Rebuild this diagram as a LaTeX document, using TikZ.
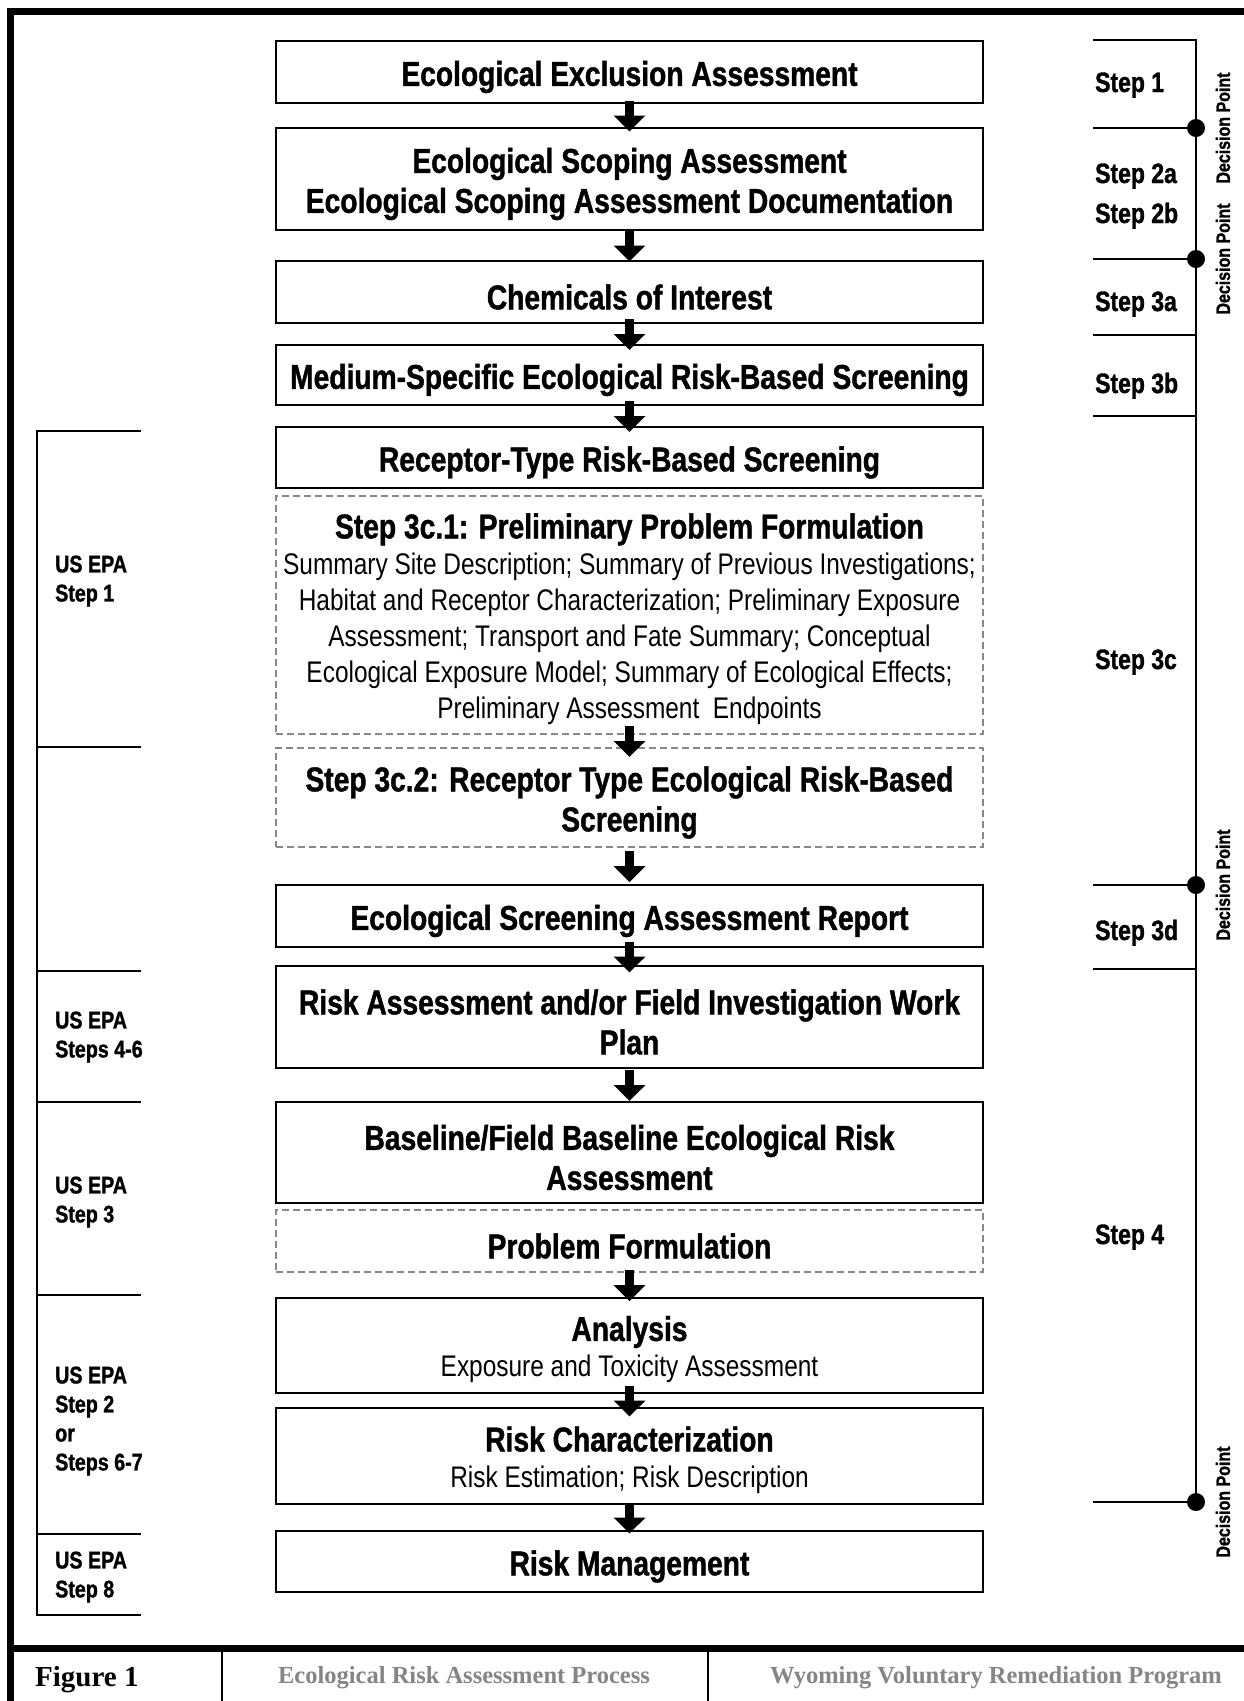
\documentclass[tikz,border=0pt]{standalone}
\usepackage{fontspec}
\setmainfont{Liberation Sans}
\newfontfamily\narrowfont{Liberation Sans}[FakeStretch=0.82, BoldFeatures={FakeBold=1.2}]
\newfontfamily\timesfont{Liberation Serif}
\usetikzlibrary{arrows.meta,calc}
\definecolor{dashgray}{HTML}{888888}
\definecolor{footgray}{HTML}{858585}
\newcommand\titlef{\narrowfont\bfseries\fontsize{34.4pt}{40pt}\selectfont}
\newcommand\bodyf{\narrowfont\fontsize{29.8pt}{36pt}\selectfont}
\newcommand\stepf{\narrowfont\bfseries\fontsize{28pt}{34pt}\selectfont}
\newcommand\epaf{\narrowfont\bfseries\fontsize{24pt}{29pt}\selectfont}
\newcommand\decf{\narrowfont\bfseries\fontsize{19.5pt}{23pt}\selectfont}
\newcommand\figf{\timesfont\bfseries\fontsize{29pt}{34pt}\selectfont}
\newcommand\footf{\timesfont\bfseries\fontsize{24.5pt}{29pt}\selectfont}
\begin{document}
\begin{tikzpicture}[x=1pt,y=-1pt,
  box/.style={draw, line width=1.8pt, minimum width=707pt, inner sep=0pt},
  dbox/.style={box, draw=dashgray, line width=2.5pt, dash pattern=on 7pt off 4pt},
  boxtext/.style={inner sep=0pt, align=center, font=\titlef},
  flowarrow/.style={line width=9pt, -{Triangle[width=31pt,length=16pt]}},
  thinline/.style={line width=1.5pt},
  decdot/.style={circle, fill=black, inner sep=0pt, minimum size=18pt},
  steplabel/.style={anchor=base west, font=\stepf, inner sep=0pt},
  epalabel/.style={anchor=west, align=left, font=\epaf, inner sep=0pt},
  declabel/.style={rotate=90, font=\decf, inner sep=0pt}]
\path[fill=white] (0,0) rectangle (1244,1701);
\useasboundingbox (0,0) rectangle (1244,1701);

% frame
\draw[line width=7pt, line join=miter] (1244,11.5) -- (10.5,11.5) -- (10.5,1701);
\draw[line width=7pt] (10.5,1648) -- (1244,1648);
\draw[line width=1.2pt] (222,1651.5) -- (222,1701);
\draw[line width=1.2pt] (708,1651.5) -- (708,1701);

% footer
\node[anchor=base west, font=\figf, inner sep=0pt] (fig) at (35,1686) {Figure 1};
\node[anchor=base, font=\footf, text=footgray, inner sep=0pt] (ftitle) at (464,1683) {Ecological Risk Assessment Process};
\node[anchor=base, font=\footf, text=footgray, inner sep=0pt] (fprog) at (996,1683) {Wyoming Voluntary Remediation Program};

% main boxes
\node[box, minimum height=62pt] (b1) at (629.5,72) {};
\node[box, minimum height=102pt] (b2) at (629.5,179) {};
\node[box, minimum height=62pt] (b3) at (629.5,292) {};
\node[box, minimum height=60pt] (b4) at (629.5,375) {};
\node[box, minimum height=61pt] (b5) at (629.5,457.5) {};
\node[dbox, minimum height=238pt] (b6) at (629.5,615) {};
\node[dbox, minimum height=99pt] (b7) at (629.5,797.5) {};
\node[box, minimum height=62pt] (b8) at (629.5,916) {};
\node[box, minimum height=102pt] (b9) at (629.5,1017) {};
\node[box, minimum height=101pt] (b10) at (629.5,1152.5) {};
\node[dbox, minimum height=62pt] (b11) at (629.5,1241) {};
\node[box, minimum height=95pt] (b12) at (629.5,1345.5) {};
\node[box, minimum height=96pt] (b13) at (629.5,1456) {};
\node[box, minimum height=61pt] (b14) at (629.5,1561.5) {};

% box texts
\node[boxtext] (t1) at ($(b1.center)+(0,5)$) {Ecological Exclusion Assessment};
\node[boxtext] (t2) at ($(b2.center)+(0,5)$) {Ecological Scoping Assessment\\Ecological Scoping Assessment Documentation};
\node[boxtext] (t3) at ($(b3.center)+(0,5)$) {Chemicals of Interest};
\node[boxtext] (t4) at ($(b4.center)+(0,5)$) {Medium-Specific Ecological Risk-Based Screening};
\node[boxtext] (t5) at ($(b5.center)+(0,5)$) {Receptor-Type Risk-Based Screening};
\node[boxtext, font=\bodyf] (t6) at ($(b6.center)+(0,4)$) {{\titlef Step 3c.1: Preliminary Problem Formulation}\\
Summary Site Description; Summary of Previous Investigations;\\
Habitat and Receptor Characterization; Preliminary Exposure\\
Assessment; Transport and Fate Summary; Conceptual\\
Ecological Exposure Model; Summary of Ecological Effects;\\
Preliminary Assessment\ \ Endpoints};
\node[boxtext] (t7) at ($(b7.center)+(0,5)$) {Step 3c.2: Receptor Type Ecological Risk-Based\\Screening};
\node[boxtext] (t8) at ($(b8.center)+(0,5)$) {Ecological Screening Assessment Report};
\node[boxtext] (t9) at ($(b9.center)+(0,5)$) {Risk Assessment and/or Field Investigation Work\\Plan};
\node[boxtext] (t10) at ($(b10.center)+(0,5)$) {Baseline/Field Baseline Ecological Risk\\Assessment};
\node[boxtext] (t11) at ($(b11.center)+(0,5)$) {Problem Formulation};
\node[boxtext, font=\bodyf] (t12) at ($(b12.center)+(0,4)$) {{\titlef Analysis}\\Exposure and Toxicity Assessment};
\node[boxtext, font=\bodyf] (t13) at ($(b13.center)+(0,4)$) {{\titlef Risk Characterization}\\Risk Estimation; Risk Description};
\node[boxtext] (t14) at ($(b14.center)+(0,5)$) {Risk Management};

% arrows
\foreach \a/\b in {b1/b2,b2/b3,b3/b4,b4/b5,b6/b7,b7/b8,b8/b9,b9/b10,b11/b12,b12/b13,b13/b14}{
  \draw[flowarrow] ($(\a.south)!0.5!(\b.north)+(0,-15)$) -- ($(\a.south)!0.5!(\b.north)+(0,16)$);
}

% right side
\draw[thinline] (1093,40) -- (1196,40) -- (1196,1502);
\foreach \yy in {128,259,335,416,885,969,1502}{
  \draw[thinline] (1093,\yy) -- (1196,\yy);
}
\foreach \yy/\nm in {128/d1,259/d2,885/d3,1502/d4}{
  \node[decdot] (\nm) at (1196,\yy) {};
  \node[declabel] at (1223,\yy) {Decision Point};
}
\node[steplabel] (s1) at (1095,92) {Step 1};
\node[steplabel] (s2a) at (1095,183) {Step 2a};
\node[steplabel] (s2b) at (1095,223) {Step 2b};
\node[steplabel] (s3a) at (1095,311) {Step 3a};
\node[steplabel] (s3b) at (1095,393) {Step 3b};
\node[steplabel] (s3c) at (1095,669) {Step 3c};
\node[steplabel] (s3d) at (1095,940) {Step 3d};
\node[steplabel] (s4) at (1095,1244) {Step 4};

% left side
\draw[thinline] (141,431) -- (37,431) -- (37,1615) -- (141,1615);
\foreach \yy in {747,971,1102,1295,1534}{
  \draw[thinline] (37,\yy) -- (141,\yy);
}
\node[epalabel] (e1) at (55,581) {US EPA\\Step 1};
\node[epalabel] (e2) at (55,1037) {US EPA\\Steps 4-6};
\node[epalabel] (e3) at (55,1202) {US EPA\\Step 3};
\node[epalabel] (e4) at (55,1421) {US EPA\\Step 2\\or\\Steps 6-7};
\node[epalabel] (e5) at (55,1577) {US EPA\\Step 8};
\end{tikzpicture}
\end{document}
